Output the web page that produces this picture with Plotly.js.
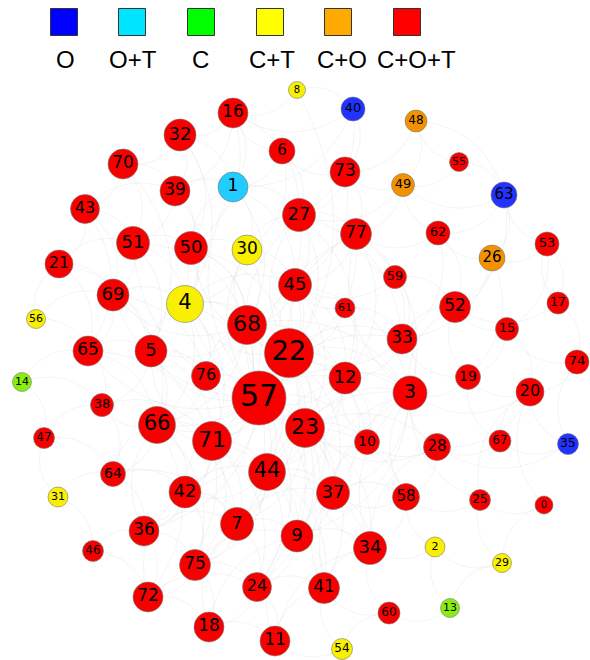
<!DOCTYPE html>
<html>
<head>
<meta charset="utf-8">
<script src="https://cdn.plot.ly/plotly-3.0.1.min.js"></script>
<style>html,body{margin:0;padding:0;background:#fff;}#chart{width:590px;height:660px;}</style>
</head>
<body>
<div id="chart"></div>
<script>
// Categories (legend)
const categories = ["O", "O+T", "C", "C+T", "C+O", "C+O+T"];
const legendColors = ["#0000ff", "#00e5ff", "#00ff00", "#ffff00", "#ffaa00", "#ff0000"];
const nodeColors = ["#2233ff", "#22ccff", "#88ee11", "#f8f000", "#f39200", "#f80000"];

// Nodes: id, category index, relative size (degree-based diameter)
const nodeIds = [0,1,2,3,4,5,6,7,8,9,10,11,12,13,14,15,16,17,18,19,20,21,22,23,24,25,26,27,28,29,30,31,32,33,34,35,36,37,38,39,40,41,42,43,44,45,46,47,48,49,50,51,52,53,54,55,56,57,58,59,60,61,62,63,64,65,66,67,68,69,70,71,72,73,74,75,76,77];
const nodeCat = [5,1,3,5,3,5,5,5,3,5,5,5,5,2,2,5,5,5,5,5,5,5,5,5,5,5,4,5,5,3,3,3,5,5,5,0,5,5,5,5,0,5,5,5,5,5,5,5,4,4,5,5,5,5,3,5,3,5,5,5,5,5,5,0,5,5,5,5,5,5,5,5,5,5,5,5,5,5];
const nodeSize = [18,30,20,34,37,32,26,33,17,32,25,30,32,19,19,23,30,22,30,25,28,28,49,39,29,21,26,33,27,19,30,20,32,30,33,21,30,33,23,30,24,31,32,29,37,33,21,21,22,23,33,33,31,24,21,19,19,54,27,23,22,20,24,26,25,30,37,22,39,32,30,39,30,30,24,31,29,31];
// Layout positions (pixel space of the drawing)
const nodeX = [544,233,435,410,185,151,282,237,297,297,367,275,345,450,22,507,233,558,209,468,530,59,289,305,257,480,492,299,437,502,247,58,180,402,370,568,144,333,102,175,353,324,185,85,267,295,93,44,416,403,191,133,455,547,342,459,36,259,406,395,389,345,438,504,113,88,157,500,247,113,123,212,148,345,577,195,206,356];
const nodeY = [505,187,547,393,304,351,151,524,90,536,442,641,378,608,382,329,113,303,627,377,392,264,353,428,587,500,258,215,447,563,250,497,135,339,548,444,531,493,405,191,109,588,492,209,472,285,551,438,121,185,248,243,307,244,649,162,319,398,497,277,613,308,233,195,474,351,425,441,325,295,164,441,597,172,362,565,376,234];

// Edges (pairs of node ids)
const edges = [
[8,57],[8,16],[8,40],[14,65],[14,38],[14,47],[56,69],[56,65],[56,21],[29,2],[29,25],[29,0],[13,60],[13,2],[13,29],[0,25],[0,20],
[31,64],[31,46],[31,47],[54,41],[54,60],[54,11],[47,38],[47,64],[46,36],[46,72],[55,49],[55,63],[55,48],[48,73],[48,49],[48,63],
[40,73],[40,27],[40,1],[40,16],[2,34],[2,58],[60,41],[60,34],[25,58],[25,3],[25,20],[35,20],[35,67],[35,74],[35,28],
[17,52],[17,74],[17,53],[74,20],[74,15],[53,26],[53,63],[53,15],[53,17],[63,52],[63,26],[63,62],[63,49],[26,52],
[26,62],[26,19],[26,33],[15,19],[15,52],[15,20],[67,28],[67,20],[67,19],[19,3],[19,33],[19,52],[20,3],[20,28],[20,19],[61,22],
[61,45],[61,12],[61,33],[10,23],[10,3],[10,12],[28,3],[28,23],[28,58],[28,10],[58,37],[58,34],[58,3],[59,77],[59,33],[59,52],[59,45],[62,77],
[62,49],[62,52],[62,33],[49,73],[49,77],[49,27],[73,27],[73,6],[73,77],[73,45],[6,16],[6,27],[6,1],[6,30],[16,32],[16,1],[16,39],
[32,39],[32,70],[32,1],[32,50],[70,43],[70,39],[70,51],[43,51],[43,21],[43,39],[43,69],[21,69],[21,51],[21,65],[39,50],[39,1],[39,51],[51,50],
[51,69],[51,5],[51,4],[50,4],[50,68],[50,30],[50,1],[1,30],[1,27],[1,68],[1,45],[30,68],[30,45],[30,4],[30,27],
[27,45],[27,22],[27,77],[27,68],[77,45],[77,33],[77,22],[77,12],[45,22],[45,68],[45,12],[45,57],[33,3],[33,12],[33,52],
[33,22],[69,4],[69,5],[69,65],[69,76],[65,5],[65,66],[65,38],[5,66],[5,76],[5,4],[5,38],[4,68],[4,57],[4,76],[4,45],
[68,22],[68,57],[68,76],[68,12],[22,57],[22,12],[22,23],[22,3],[22,10],[12,23],[12,3],[12,57],[12,10],[76,57],
[76,66],[76,71],[76,68],[57,71],[57,23],[57,44],[57,66],[57,10],[66,71],[66,42],[66,38],[66,64],[71,44],[71,42],
[71,7],[71,23],[23,44],[23,37],[23,10],[38,64],[64,42],[64,36],[64,66],[42,7],[42,36],[42,75],[44,7],[44,9],
[44,37],[44,34],[37,9],[37,34],[37,58],[37,10],[7,9],[7,75],[7,24],[36,75],[36,72],[36,66],[9,24],[9,41],[9,34],[75,72],
[75,18],[75,24],[72,18],[72,42],[24,18],[24,11],[24,41],[18,11],[18,7],[11,41],[11,9],[41,34],[41,37],[34,3],[34,28],
[57,3],[57,5],[22,4],[68,71],[22,71],[57,9],[57,7],[23,9],[44,42],[57,42],[22,44],[68,5],
[66,7],[71,5],[23,3],[57,24],[44,75],[23,34],[71,36],[57,50],[22,27],[22,77],
[22,66],[68,23],[57,37],[71,72],[44,24],[22,50],[68,69],[22,45],[57,30],[57,1],
[22,33],[22,37],[22,9],[22,7],[57,75],[57,36],[57,65],[57,69],[57,51],[57,27],[57,77],[57,33],
[68,44],[68,66],[68,42],[68,3],[68,30],[71,9],[71,75],[71,24],[71,12],[23,7],[23,24],[23,41],
[44,41],[44,12],[44,3],[66,75],[66,72],[4,71],[4,66],[4,22],[45,3],[45,23],[12,37],[12,44],
[3,52],[3,77],[3,37],[3,9],[23,58],[23,28],[50,68],[50,22],[30,22],[27,33],[27,12],[77,3],
[16,27],[16,50],[32,4],[70,5],[43,65],[21,5],[39,4],[51,68],[69,66],[65,71],[5,71],[38,71],
[64,7],[36,7],[75,9],[72,24],[18,9],[11,34],[41,3],[34,23],[9,3],[7,37],[42,44],[42,57]
];

const W = 590, H = 660;
const idx = {};
nodeIds.forEach((id, i) => { idx[id] = i; });

// Curved edges (arc3-style quadratic curves between node centres)
const ex = [], ey = [];
const rad = 0.35;
edges.forEach(([a, b]) => {
  const i = idx[a], j = idx[b];
  const x0 = nodeX[i], y0 = nodeY[i], x1 = nodeX[j], y1 = nodeY[j];
  const mx = (x0 + x1) / 2, my = (y0 + y1) / 2;
  const cx = mx + rad * (y1 - y0), cy = my - rad * (x1 - x0);
  for (let k = 0; k <= 20; k++) {
    const t = k / 20, u = 1 - t;
    ex.push(u*u*x0 + 2*u*t*cx + t*t*x1);
    ey.push(u*u*y0 + 2*u*t*cy + t*t*y1);
  }
  ex.push(null); ey.push(null);
});

const edgeTrace = {
  type: "scatter", mode: "lines", x: ex, y: ey, hoverinfo: "skip",
  line: {color: "rgba(160,160,160,0.2)", width: 0.6}, showlegend: false
};

const nodeTrace = {
  type: "scatter", mode: "markers+text",
  x: nodeX, y: nodeY,
  text: nodeIds.map(String),
  textposition: "middle center",
  textfont: {family: "DejaVu Sans", color: "#000", size: nodeSize.map(s => Math.round(s * 0.56))},
  marker: {size: nodeSize, color: nodeCat.map(c => nodeColors[c]), line: {color: "#777", width: 0.6}, opacity: 1},
  hoverinfo: "text", showlegend: false, cliponaxis: false
};

// Legend
const legX = [64, 132, 201, 270, 338, 407];
const legendTrace = {
  type: "scatter", mode: "markers", x: legX, y: legX.map(() => 22),
  marker: {symbol: "square", size: 27, color: legendColors, line: {color: "#333", width: 1}},
  hoverinfo: "skip", showlegend: false, cliponaxis: false
};
const legLabelX = [65, 133, 200, 272, 342, 416];
const annotations = categories.map((c, i) => ({
  x: legLabelX[i], y: 59, xref: "x", yref: "y", text: c, showarrow: false,
  font: {family: "Liberation Sans", size: 24, color: "#000"}, xanchor: "center", yanchor: "middle"
}));

const layout = {
  width: W, height: H,
  margin: {l: 0, r: 0, t: 0, b: 0},
  paper_bgcolor: "#fff", plot_bgcolor: "#fff",
  xaxis: {range: [0, W], visible: false, fixedrange: true},
  yaxis: {range: [H, 0], visible: false, fixedrange: true},
  annotations: annotations,
  showlegend: false
};

Plotly.newPlot("chart", [edgeTrace, nodeTrace, legendTrace], layout, {displayModeBar: false, staticPlot: true});
</script>
</body>
</html>
